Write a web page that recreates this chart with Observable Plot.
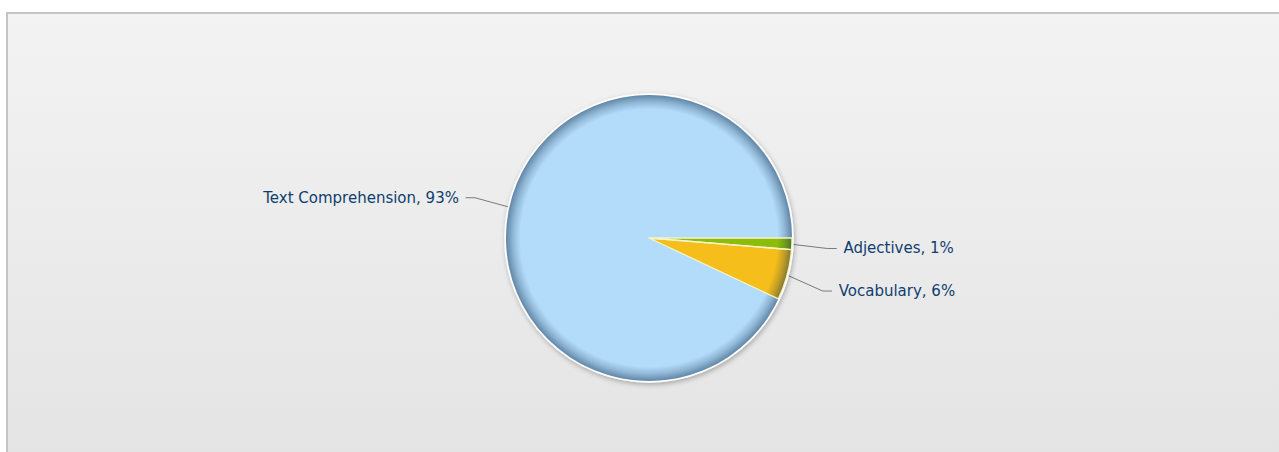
<!DOCTYPE html>
<html>
<head>
<meta charset="utf-8">
<script src="https://cdn.jsdelivr.net/npm/d3@7"></script>
<script src="https://cdn.jsdelivr.net/npm/@observablehq/plot@0.6"></script>
<style>
  html, body { margin: 0; padding: 0; background: #fff; overflow: hidden; }
  #wrap { position: relative; width: 1279px; height: 452px; overflow: hidden; }
  #frame { position: absolute; left: 6px; top: 12px; width: 1300px; height: 480px;
    border-left: 2px solid #c4c4c4; border-top: 2px solid #c4c4c4;
    background: linear-gradient(to bottom, #f3f3f3 0px, #e4e4e4 440px); }
  #chart { position: absolute; left: 0; top: 0; }
  #chart svg { background: transparent !important; }
</style>
</head>
<body>
<div id="wrap"><div id="frame"></div><div id="chart"></div></div>
<script>
const categories = ["Adjectives", "Vocabulary", "Text Comprehension"];
const shares = [1.3, 5.7, 93.0];
const colors = ["#8cbc0c", "#f5be1b", "#b3dbfa"];

const W = 1279, H = 452;
const cx = 649, cy = 238, R = 143;

const arcs = d3.pie().sort(null).startAngle(Math.PI / 2).endAngle(Math.PI / 2 + 2 * Math.PI)(shares);
const total = d3.sum(shares);

const labels = arcs.map((a, i) => {
  const m = (a.startAngle + a.endAngle) / 2;
  const s = Math.sin(m), c = Math.cos(m);
  const side = s >= 0 ? 1 : -1;
  const ex = cx + R * s, ey = cy - R * c;
  const bx = ex + side * 35, by = cy - (R + 53) * c + 2;
  const hx = bx + side * 9;
  return {name: categories[i], text: `${categories[i]}, ${Math.round(shares[i] / total * 100)}%`,
    ex, ey, bx, by, hx, tx: hx + side * 7, side};
});
const leader = labels.flatMap((d, i) => [
  {x: d.ex, y: d.ey, k: i}, {x: d.bx, y: d.by, k: i}, {x: d.hx, y: d.by, k: i}
]);

function pieMark(index, scales, values, dims, context) {
  const g = d3.create("svg:g");
  const defs = g.append("defs");
  const f = defs.append("filter").attr("id", "shadow").attr("x", "-10%").attr("y", "-10%").attr("width", "120%").attr("height", "120%");
  f.append("feDropShadow").attr("dx", 1).attr("dy", 2).attr("stdDeviation", 2.5).attr("flood-color", "#000").attr("flood-opacity", 0.28);
  const rg = defs.append("radialGradient").attr("id", "rim").attr("gradientUnits", "userSpaceOnUse")
    .attr("cx", 0).attr("cy", 0).attr("r", R);
  rg.append("stop").attr("offset", "0%").attr("stop-color", "#0a2a4a").attr("stop-opacity", 0);
  rg.append("stop").attr("offset", "90%").attr("stop-color", "#0a2a4a").attr("stop-opacity", 0);
  rg.append("stop").attr("offset", "95%").attr("stop-color", "#0a2a4a").attr("stop-opacity", 0.2);
  rg.append("stop").attr("offset", "100%").attr("stop-color", "#0a2a4a").attr("stop-opacity", 0.48);

  const X = scales.x(cx), Y = scales.y(cy);
  g.append("circle").attr("cx", X).attr("cy", Y).attr("r", R + 1)
    .attr("fill", "#fff").attr("stroke", "#fff").attr("stroke-width", 1.5).attr("filter", "url(#shadow)");
  const arc = d3.arc().innerRadius(0).outerRadius(R);
  const pg = g.append("g").attr("transform", `translate(${X},${Y})`);
  pg.selectAll("path.slice").data(arcs).join("path").attr("class", "slice")
    .attr("d", arc).attr("fill", (d, i) => colors[i]);
  pg.append("circle").attr("r", R).attr("fill", "url(#rim)");
  pg.selectAll("path.edge").data(arcs.slice(0, 2)).join("path").attr("class", "edge")
    .attr("d", arc).attr("fill", "none").attr("stroke", "#f3f3c8").attr("stroke-width", 1.3)
    .attr("stroke-linejoin", "round");
  return g.node();
}

const textOpts = {x: "tx", y: "by", text: "text", lineAnchor: "middle",
  fill: "#0f3f70", fontSize: 15, fontFamily: "Verdana, 'DejaVu Sans', sans-serif"};

const chart = Plot.plot({
  width: W, height: H,
  margin: 0,
  x: {type: "identity", axis: null},
  y: {type: "identity", axis: null},
  style: {background: "transparent"},
  marks: [
    Plot.line(leader, {x: "x", y: "y", z: "k", stroke: "#7a7a7a", strokeWidth: 1}),
    pieMark,
    Plot.text(labels.filter(d => d.side > 0), {...textOpts, textAnchor: "start"}),
    Plot.text(labels.filter(d => d.side < 0), {...textOpts, textAnchor: "end"})
  ]
});
document.getElementById("chart").appendChild(chart);
</script>
</body>
</html>
